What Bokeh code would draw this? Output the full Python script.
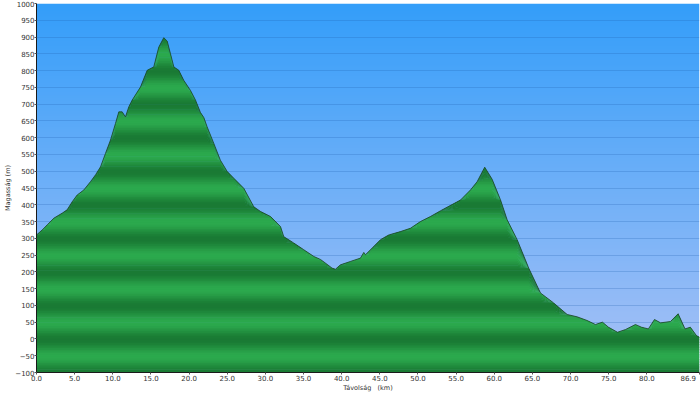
import numpy as np
from bokeh.plotting import figure
from bokeh.models import Range1d, FixedTicker, NumeralTickFormatter
from bokeh.embed import file_html
from bokeh.resources import INLINE

# distance along the route (km) and elevation (m)
dist_km = [0.0, 0.75, 1.4, 2.27, 3.37, 4.02, 4.68, 5.33, 6.2, 7.08, 7.73, 8.39, 9.04, 9.7,
           10.35, 10.79, 11.23, 11.66, 12.1, 12.54, 13.63, 14.51, 15.37, 16.03, 16.68, 17.13,
           17.56, 18.0, 18.65, 19.3, 20.18, 20.84, 21.49, 21.93, 22.37, 23.24, 24.1, 25.0,
           25.86, 27.17, 28.48, 29.36, 30.67, 31.98, 32.41, 33.72, 35.03, 36.34, 37.22, 37.88,
           38.75, 39.19, 39.84, 41.15, 42.46, 42.9, 43.12, 44.0, 45.09, 46.17, 47.71, 49.02,
           50.33, 51.64, 52.95, 55.57, 56.88, 57.76, 58.75, 59.72, 60.81, 61.69, 63.0, 64.52,
           66.06, 67.8, 69.55, 70.86, 72.17, 73.26, 74.18, 74.97, 76.15, 77.2, 78.5, 79.3,
           80.2, 81.0, 81.8, 83.1, 84.1, 85.0, 85.7, 86.5, 86.9]
elev_m = [310, 325, 340, 360, 375, 385, 409, 429, 444, 469, 489, 513, 553, 593, 642, 677, 677,
          662, 692, 712, 751, 801, 811, 870, 898, 888, 850, 811, 801, 771, 741, 712, 675, 660,
          632, 583, 533, 499, 479, 449, 394, 380, 365, 335, 305, 286, 266, 246, 237, 226, 211,
          208, 221, 231, 241, 258, 251, 271, 296, 310, 320, 330, 350, 365, 382, 414, 444, 469,
          512, 476, 415, 355, 296, 211, 137, 107, 73, 66, 55, 43, 50, 35, 20, 28, 43, 35, 30,
          58, 48, 52, 75, 30, 35, 10, 5]

x_ticks = [0, 5, 10, 15, 20, 25, 30, 35, 40, 45, 50, 55, 60, 65, 70, 75, 80, 86.9]
y_ticks = list(range(-100, 1001, 50))

x_max = 86.9
y_min, y_max = -100, 1000

p = figure(width=700, height=394, x_range=Range1d(0, x_max), y_range=Range1d(y_min, y_max),
           output_backend="svg", toolbar_location=None,
           min_border_left=36, min_border_right=1, min_border_top=3, min_border_bottom=20,
           background_fill_color="white", border_fill_color="white")
p.outline_line_color = None

# sky gradient background
N = 256
t = np.linspace(0, 1, N)  # 0 bottom -> 1 top
bottom = np.array([170, 194, 246])
top = np.array([52, 158, 250])
img = np.zeros((N, 1), dtype=np.uint32)
view = img.view(dtype=np.uint8).reshape((N, 1, 4))
for i in range(N):
    c = bottom * (1 - t[i]) + top * t[i]
    view[i, 0, 0] = int(c[0]); view[i, 0, 1] = int(c[1]); view[i, 0, 2] = int(c[2]); view[i, 0, 3] = 255
p.image_rgba(image=[img], x=0, y=y_min, dw=x_max, dh=y_max - y_min, level="image")

# striped green terrain fill
elev = np.array(elev_m, dtype=float)
dark = np.array([26, 122, 52])
light = np.array([44, 170, 78])
step = 5
delta = 2
for lo in range(y_min, int(elev.max()) + step, step):
    hi = lo + step
    mid = lo + step / 2
    k = (1 + np.cos(2 * np.pi * mid / 100)) / 2
    c = light * (1 - k) + dark * k
    col = "#%02x%02x%02x" % tuple(int(v) for v in c)
    y2 = np.minimum(elev, hi)
    y1 = np.minimum(elev, lo - delta)
    p.varea(x=dist_km, y1=y1, y2=y2, fill_color=col)

p.line(dist_km, elev_m, line_color="#1a4424", line_width=0.8)

# grid
p.xgrid.visible = False
p.ygrid.ticker = FixedTicker(ticks=y_ticks)
p.ygrid.grid_line_color = "#1f5fb0"
p.ygrid.grid_line_alpha = 0.25

# axes
font = "DejaVu Sans"
for ax in (p.xaxis[0], p.yaxis[0]):
    ax.axis_line_color = "#1a1a1a"
    ax.major_tick_line_color = "#555555"
    ax.major_tick_in = 0
    ax.major_tick_out = 2
    ax.minor_tick_line_color = None
    ax.major_label_text_font = font
    ax.major_label_text_font_size = "7px"
    ax.major_label_text_color = "#333333"
    ax.major_label_standoff = 0
    ax.axis_label_text_font = font
    ax.axis_label_text_font_size = "6.5px"
    ax.axis_label_text_font_style = "normal"
    ax.axis_label_text_color = "#333333"
    ax.axis_label_standoff = 0

p.xaxis.axis_label_standoff = -2
p.yaxis.ticker = FixedTicker(ticks=y_ticks)
p.yaxis.axis_label = "Magasság (m)"
p.xaxis.ticker = FixedTicker(ticks=x_ticks)
p.xaxis.formatter = NumeralTickFormatter(format="0.0")
p.xaxis.major_label_overrides = {86.9: "86.9\u00a0\u00a0"}
p.xaxis.axis_label = "Távolság\u00a0\u00a0\u00a0(km)"

open("out.html", "w").write(file_html(p, INLINE))
